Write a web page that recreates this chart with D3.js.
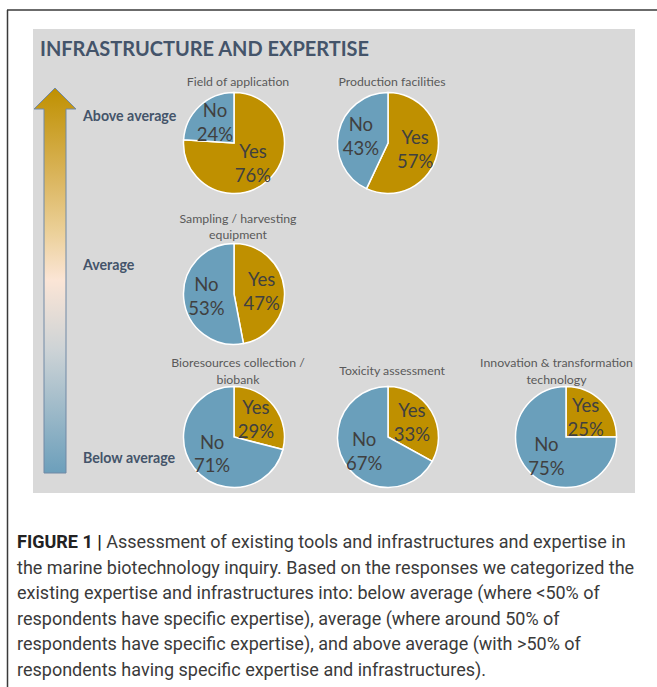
<!DOCTYPE html>
<html>
<head>
<meta charset="utf-8">
<script src="https://cdn.jsdelivr.net/npm/d3@7"></script>
<style>
  html, body { margin: 0; padding: 0; background: #fff; }
  svg { display: block; }
</style>
</head>
<body>
<svg id="chart" width="657" height="687"></svg>
<script>
// categories (pie titles, split into lines as in the figure)
var chartTitles = [
  ["Field of application"],
  ["Production facilities"],
  ["Sampling / harvesting", "equipment"],
  ["Bioresources collection /", "biobank"],
  ["Toxicity assessment"],
  ["Innovation & transformation", "technology"]
];
// series values (% of respondents)
var yesValues = [76, 57, 47, 29, 33, 25];
var noValues = [24, 43, 53, 71, 67, 75];
var answers = ["Yes", "No"];
// grid slot of each pie
var pieRow = [0, 0, 1, 2, 2, 2];
var pieCol = [0, 1, 0, 0, 1, 2];
var levels = ["Above average", "Average", "Below average"];
var captionLines = [
  "Assessment of existing tools and infrastructures and expertise in",
  "the marine biotechnology inquiry. Based on the responses we categorized the",
  "existing expertise and infrastructures into: below average (where <50% of",
  "respondents have specific expertise), average (where around 50% of",
  "respondents have specific expertise), and above average (with >50% of",
  "respondents having specific expertise and infrastructures)."
];

var svg = d3.select("#chart");
var W = 657, H = 687;
var panel = {x: 33, y: 29, w: 602, h: 464};
var radius = 50.5;

var colX = d3.scaleOrdinal().domain([0, 1, 2]).range([234, 388, 566]);
var rowY = d3.scaleOrdinal().domain([0, 1, 2]).range([143, 294, 437]);
var titleY = d3.scaleOrdinal().domain([0, 1, 2]).range([82, 226.5, 371]);
var levelY = d3.scaleOrdinal().domain(levels).range([116, 265, 458]);
var color = d3.scaleOrdinal().domain(answers).range(["#bf9000", "#6a9fbb"]);

// outer frame
svg.append("line").attr("x1", 7).attr("x2", W).attr("y1", 10).attr("y2", 10)
   .attr("stroke", "#3a3a3a").attr("stroke-width", 1.5);
svg.append("line").attr("x1", 7.5).attr("x2", 7.5).attr("y1", 10).attr("y2", H)
   .attr("stroke", "#3a3a3a").attr("stroke-width", 1.5);

// grey panel
svg.append("rect")
   .attr("x", panel.x).attr("y", panel.y)
   .attr("width", panel.w).attr("height", panel.h)
   .attr("fill", "#d9d9d9");

svg.append("text")
   .attr("x", 40).attr("y", 56)
   .attr("font-family", "Lato, 'Open Sans', sans-serif")
   .attr("font-weight", 700)
   .attr("font-size", 20)
   .attr("fill", "#44546a")
   .attr("textLength", 329)
   .attr("lengthAdjust", "spacingAndGlyphs")
   .text("INFRASTRUCTURE AND EXPERTISE");

// gradient arrow
var defs = svg.append("defs");
var grad = defs.append("linearGradient")
   .attr("id", "arrowGrad")
   .attr("gradientUnits", "userSpaceOnUse")
   .attr("x1", 0).attr("x2", 0).attr("y1", 88).attr("y2", 473);
[[0, "#bf9000"], [0.22, "#d9b358"], [0.38, "#ecd19b"], [0.5, "#fbe5d6"],
 [0.68, "#cdd3d6"], [1, "#6c9fbb"]].forEach(function(s) {
  grad.append("stop").attr("offset", s[0]).attr("stop-color", s[1]);
});
svg.append("path")
   .attr("d", "M55,88 L76,109 L66,109 L66,473 L44,473 L44,109 L34,109 Z")
   .attr("fill", "url(#arrowGrad)")
   .attr("stroke", "#7189a5")
   .attr("stroke-width", 1);

svg.selectAll(".level")
   .data(levels)
   .enter().append("text")
   .attr("class", "level")
   .attr("x", 83)
   .attr("y", function(d) { return levelY(d); })
   .attr("dy", "0.35em")
   .attr("font-family", "Lato, 'Open Sans', sans-serif")
   .attr("font-weight", 700)
   .attr("font-size", 14.2)
   .attr("fill", "#44546a")
   .text(function(d) { return d; });

// pies
var pie = d3.pie().sort(null).value(function(d) { return d.value; });
var arc = d3.arc().innerRadius(0).outerRadius(radius);
var labelArc = d3.arc().innerRadius(radius * 0.55).outerRadius(radius * 0.55);

var charts = chartTitles.map(function(t, i) {
  return {
    title: t,
    row: pieRow[i],
    col: pieCol[i],
    slices: [
      {answer: "Yes", value: yesValues[i]},
      {answer: "No", value: noValues[i]}
    ]
  };
});

var groups = svg.selectAll(".pieChart")
   .data(charts)
   .enter().append("g")
   .attr("class", "pieChart");

// titles
groups.each(function(c) {
  var g = d3.select(this);
  var cx = colX(c.col);
  var n = c.title.length;
  var lh = 16.5;
  var t = g.append("text")
     .attr("font-family", "Lato, 'Open Sans', sans-serif")
     .attr("font-size", 12.3)
     .attr("fill", "#595959")
     .attr("text-anchor", "middle");
  c.title.forEach(function(line, j) {
    t.append("tspan")
     .attr("x", cx)
     .attr("y", titleY(c.row) + (j - (n - 1) / 2) * lh)
     .attr("dy", "0.35em")
     .text(line);
  });
  // keep the title inside the panel
  var bb = t.node().getBBox();
  var maxRight = panel.x + panel.w - 2;
  var shift = Math.min(4, maxRight - (bb.x + bb.width));
  t.selectAll("tspan").attr("x", cx + shift);
});

groups.each(function(c) {
  var g = d3.select(this).append("g")
     .attr("transform", "translate(" + colX(c.col) + "," + rowY(c.row) + ")");
  var arcs = pie(c.slices);
  g.selectAll("path")
   .data(arcs)
   .enter().append("path")
   .attr("d", arc)
   .attr("fill", function(d) { return color(d.data.answer); })
   .attr("stroke", "#ffffff")
   .attr("stroke-width", 1.5);

  g.selectAll(".sliceLabel")
   .data(arcs)
   .enter().append("text")
   .attr("class", "sliceLabel")
   .attr("transform", function(d) { return "translate(" + labelArc.centroid(d) + ")"; })
   .attr("text-anchor", "middle")
   .attr("font-family", "Lato, 'Open Sans', sans-serif")
   .attr("font-size", 18.5)
   .attr("fill", "#404040")
   .each(function(d) {
     var t = d3.select(this);
     t.append("tspan").attr("x", 0).attr("y", -12).attr("dy", "0.35em").text(d.data.answer);
     t.append("tspan").attr("x", 0).attr("y", 12).attr("dy", "0.35em").text(d.data.value + "%");
   });
});

// caption
var cap = svg.append("g")
   .attr("font-family", "Roboto, 'Liberation Sans', sans-serif")
   .attr("font-size", 18)
   .attr("fill", "#3a3a3a");
captionLines.forEach(function(line, i) {
  var t = cap.append("text")
     .attr("x", 17)
     .attr("y", 548 + i * 25.6);
  if (i === 0) {
    t.append("tspan").attr("font-weight", 700).attr("fill", "#222").text("FIGURE 1 | ");
  }
  t.append("tspan").text(line);
});
</script>
</body>
</html>
